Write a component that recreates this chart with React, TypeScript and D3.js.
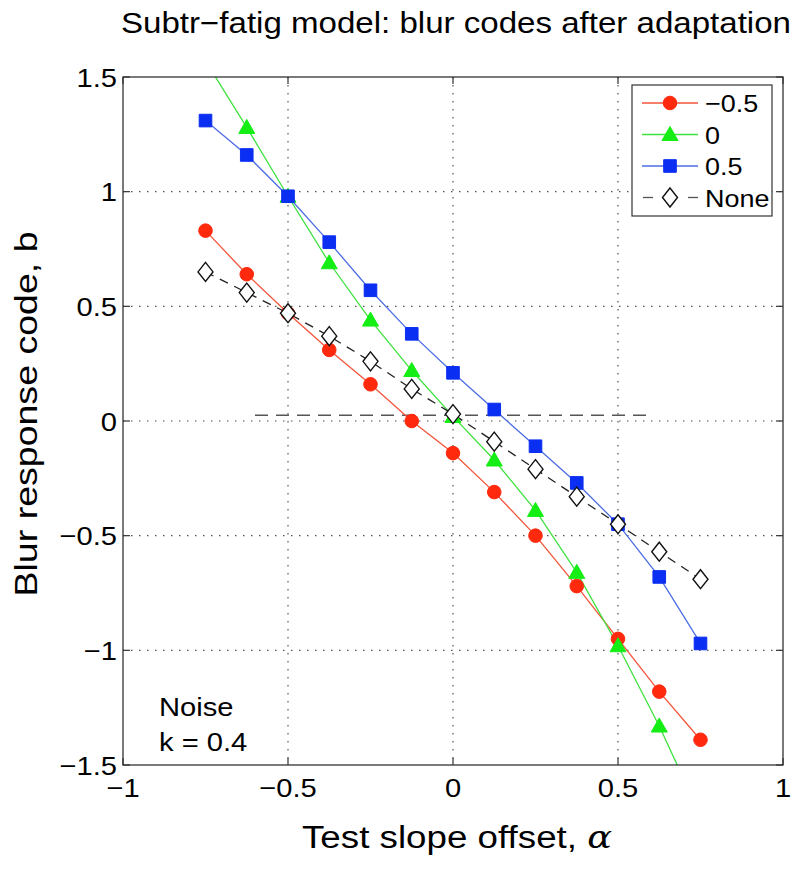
import React from "react";
import * as d3 from "d3";

const alphas = [-0.75, -0.625, -0.5, -0.375, -0.25, -0.125, 0, 0.125, 0.25, 0.375, 0.5, 0.625, 0.75];
const adaptNeg = [0.83, 0.64, 0.47, 0.31, 0.16, 0.0, -0.14, -0.31, -0.5, -0.72, -0.95, -1.18, -1.39];
const adaptZero = [1.57, 1.28, 0.98, 0.69, 0.44, 0.22, 0.02, -0.17, -0.39, -0.66, -0.98, -1.33, -1.72];
const adaptPos = [1.31, 1.16, 0.98, 0.78, 0.57, 0.38, 0.21, 0.05, -0.11, -0.27, -0.45, -0.68, -0.97];
const adaptNone = [0.65, 0.56, 0.47, 0.37, 0.26, 0.14, 0.03, -0.09, -0.21, -0.33, -0.45, -0.57, -0.69];
const seriesNames = ["\u22120.5", "0", "0.5", "None"];
const xTicks = [-1, -0.5, 0, 0.5, 1];
const yTicks = [-1.5, -1, -0.5, 0, 0.5, 1, 1.5];
const refLineX = [-0.6, 0.6];
const refLineY = 0.025;
const noteLines = ["Noise", "k = 0.4"];

const W = 800, H = 869;
const M = { left: 123, right: 783, top: 77, bottom: 765 };
const FONT = "'Liberation Sans', Arial, Helvetica, sans-serif";

const x = d3.scaleLinear().domain([-1, 1]).range([M.left, M.right]);
const y = d3.scaleLinear().domain([-1.5, 1.5]).range([M.bottom, M.top]);
const fmt = d3.format("~g");

type Marker = "circle" | "triangle" | "square" | "diamond";
const series = [
  { name: seriesNames[0], values: adaptNeg, line: "#f2553a", fill: "#ff2a0e", stroke: "#ff2a0e", marker: "circle" as Marker, dash: "" },
  { name: seriesNames[1], values: adaptZero, line: "#3ee23e", fill: "#14ee14", stroke: "#14ee14", marker: "triangle" as Marker, dash: "" },
  { name: seriesNames[2], values: adaptPos, line: "#4d6de4", fill: "#0a2ef2", stroke: "#0a2ef2", marker: "square" as Marker, dash: "" },
  { name: seriesNames[3], values: adaptNone, line: "#222", fill: "#fff", stroke: "#111", marker: "diamond" as Marker, dash: "9,7" },
];

function markerPath(m: Marker): string {
  if (m === "circle") return d3.symbol(d3.symbolCircle, 145)()!;
  if (m === "triangle") return "M0,-8L8,6L-8,6Z";
  if (m === "square") return "M-6.3,-6.3H6.3V6.3H-6.3Z";
  return "M0,-9.5L7.5,0L0,9.5L-7.5,0Z";
}

const line = d3.line<number>().x((_, i) => x(alphas[i])).y((v) => y(v));

const SX = 1.1;

export default function App() {
  return (
    <svg width={W} height={H} style={{ position: "absolute", left: 0, top: 0, background: "#fff" }} fontFamily={FONT}>
      <defs>
        <clipPath id="plotclip">
          <rect x={M.left} y={M.top} width={M.right - M.left} height={M.bottom - M.top} />
        </clipPath>
      </defs>
      <rect x={0} y={0} width={W} height={H} fill="#fff" />
      {/* grid */}
      {xTicks.slice(1, -1).map((t) => (
        <line key={"gx" + t} x1={x(t)} x2={x(t)} y1={M.top} y2={M.bottom} stroke="#555" strokeWidth={1.2} strokeDasharray="1.5,6.5" />
      ))}
      {yTicks.slice(1, -1).map((t) => (
        <line key={"gy" + t} x1={M.left} x2={M.right} y1={y(t)} y2={y(t)} stroke="#555" strokeWidth={1.2} strokeDasharray="1.5,6.5" />
      ))}
      {/* reference dashed line */}
      <line x1={x(refLineX[0])} x2={x(refLineX[1])} y1={y(refLineY)} y2={y(refLineY)} stroke="#555" strokeWidth={1.5} strokeDasharray="13,8" />
      {/* series */}
      <g clipPath="url(#plotclip)">
        {series.map((s) => (
          <path key={"l" + s.name} d={line(s.values)!} fill="none" stroke={s.line} strokeWidth={1.3} strokeDasharray={s.dash || undefined} />
        ))}
        {series.map((s) =>
          s.values.map((v, i) => (
            <path key={"m" + s.name + i} d={markerPath(s.marker)} transform={`translate(${x(alphas[i])},${y(v)})`} fill={s.fill} stroke={s.stroke} strokeWidth={s.marker === "diamond" ? 1.4 : 1} />
          ))
        )}
      </g>
      {/* axes box */}
      <rect x={M.left} y={M.top} width={M.right - M.left} height={M.bottom - M.top} fill="none" stroke="#333" strokeWidth={1.3} />
      {xTicks.map((t) => (
        <g key={"xt" + t}>
          <line x1={x(t)} x2={x(t)} y1={M.bottom} y2={M.bottom - 7} stroke="#333" strokeWidth={1.2} />
          <line x1={x(t)} x2={x(t)} y1={M.top} y2={M.top + 7} stroke="#333" strokeWidth={1.2} />
          <text transform={`translate(${x(t)},797) scale(${SX},1)`} textAnchor="middle" fontSize={26.5} fill="#000">{fmt(t)}</text>
        </g>
      ))}
      {yTicks.map((t) => (
        <g key={"yt" + t}>
          <line x1={M.left} x2={M.left + 7} y1={y(t)} y2={y(t)} stroke="#333" strokeWidth={1.2} />
          <line x1={M.right} x2={M.right - 7} y1={y(t)} y2={y(t)} stroke="#333" strokeWidth={1.2} />
          <text transform={`translate(${M.left - 6},${y(t) + 9.5}) scale(${SX},1)`} textAnchor="end" fontSize={26.5} fill="#000">{fmt(t)}</text>
        </g>
      ))}
      {/* legend */}
      <g>
        <rect x={632} y={85} width={140} height={131} fill="#fff" stroke="#333" strokeWidth={1.2} />
        {series.map((s, i) => {
          const cy = 103 + i * 31.5;
          return (
            <g key={"lg" + s.name}>
              {s.dash ? (
                <>
                  <line x1={643} x2={653} y1={cy} y2={cy} stroke="#555" strokeWidth={1.3} />
                  <line x1={688} x2={698} y1={cy} y2={cy} stroke="#555" strokeWidth={1.3} />
                </>
              ) : (
                <line x1={642} x2={698} y1={cy} y2={cy} stroke={s.line} strokeWidth={1.3} />
              )}
              <path d={markerPath(s.marker)} transform={`translate(670,${cy})`} fill={s.fill} stroke={s.stroke} strokeWidth={s.marker === "diamond" ? 1.4 : 1} />
              <text transform={`translate(705,${cy + 9}) scale(${SX},1)`} fontSize={24.5} fill="#000">{s.name}</text>
            </g>
          );
        })}
      </g>
      {/* note */}
      {noteLines.map((t, i) => (
        <text key={"n" + i} transform={`translate(159,${716 + i * 35}) scale(${SX},1)`} fontSize={26.5} fill="#000">{t}</text>
      ))}
      {/* title and labels */}
      <text x={456} y={33} textAnchor="middle" fontSize={29} fill="#000" textLength={670} lengthAdjust="spacingAndGlyphs">
        Subtr{"\u2212"}fatig model: blur codes after adaptation
      </text>
      <text x={457} y={848} textAnchor="middle" fontSize={31} fill="#000" textLength={310} lengthAdjust="spacingAndGlyphs">
        Test slope offset, <tspan fontFamily="'DejaVu Serif', serif" fontStyle="italic">{"\u03b1"}</tspan>
      </text>
      <text transform="translate(37,414) rotate(-90)" textAnchor="middle" fontSize={32} fill="#000" textLength={365} lengthAdjust="spacingAndGlyphs">
        Blur response code, b
      </text>
    </svg>
  );
}
